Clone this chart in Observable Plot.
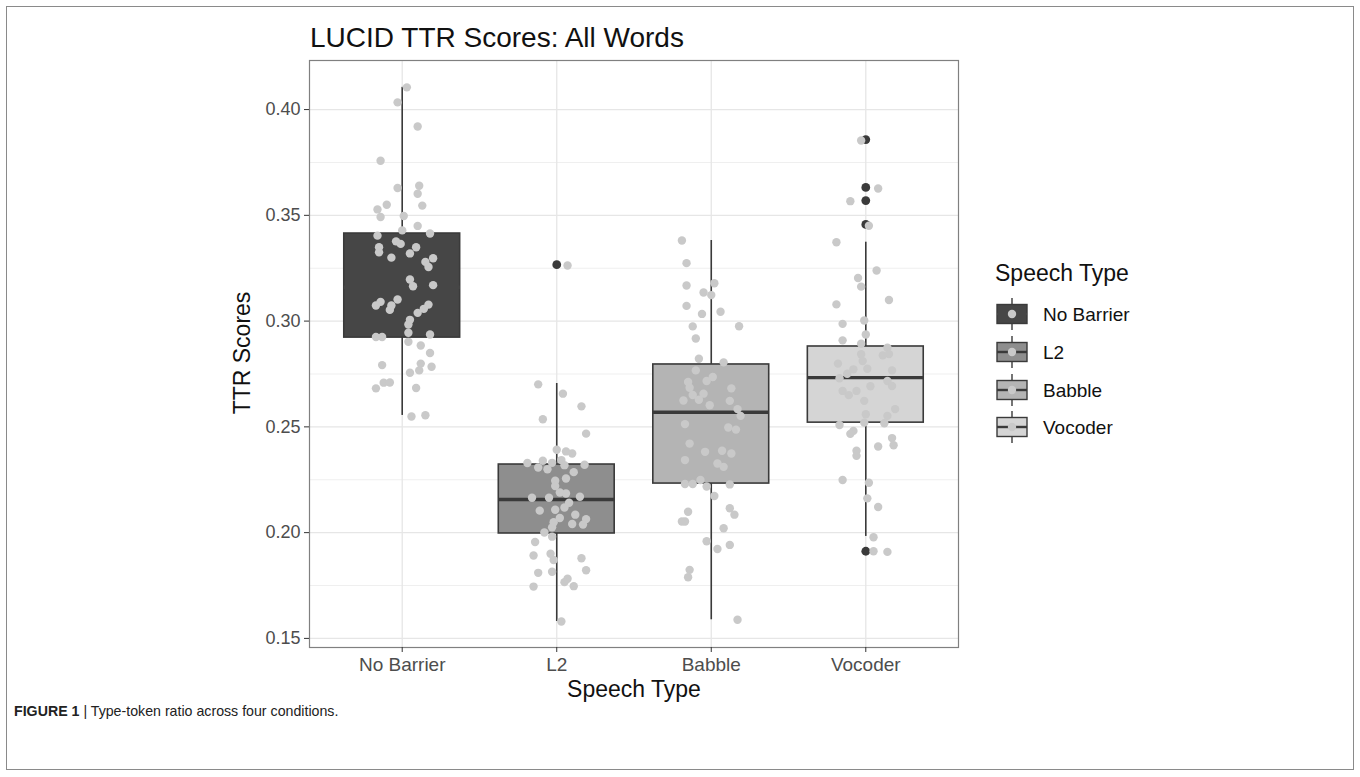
<!DOCTYPE html>
<html><head><meta charset="utf-8">
<script src="https://cdn.jsdelivr.net/npm/d3@7"></script>
<script src="https://cdn.jsdelivr.net/npm/@observablehq/plot@0.6"></script>
<style>
body{margin:0;background:#fff;font-family:"Liberation Sans",Arial,Helvetica,sans-serif;}
#wrap{position:relative;width:1360px;height:777px;overflow:hidden;}
#border{position:absolute;left:6px;top:6px;width:1348px;height:764px;border:1px solid #8a8a8a;box-sizing:border-box;}
#caption{position:absolute;left:14px;top:703px;font-size:14.2px;color:#222;white-space:nowrap;}
#chart{position:absolute;left:0;top:0;}
</style></head><body>
<div id="wrap"><div id="border"></div><div id="chart"></div>
<div id="caption"><b>FIGURE 1</b> | Type-token ratio across four conditions.</div></div>
<script>
const chartTitle = "LUCID TTR Scores: All Words";
const xTitle = "Speech Type";
const yTitle = "TTR Scores";
const legendTitle = "Speech Type";
const categories = ["No Barrier", "L2", "Babble", "Vocoder"];
const boxFill = ["#464646", "#8e8e8e", "#b4b4b4", "#d5d5d5"];
const q1 = [0.2922, 0.1996, 0.2232, 0.2520];
const median = [0.3160, 0.2157, 0.2569, 0.2733];
const q3 = [0.3414, 0.2322, 0.2795, 0.2880];
const whiskerLow = [0.2554, 0.1580, 0.1588, 0.1982];
const whiskerHigh = [0.4105, 0.2705, 0.3381, 0.3373];
const outlierGroup = [1, 3, 3, 3, 3, 3];
const outlierValue = [0.3267, 0.3858, 0.3632, 0.3570, 0.3457, 0.1912];
const yTicks = [0.15, 0.20, 0.25, 0.30, 0.35, 0.40];
const yMinorTicks = [0.175, 0.225, 0.275, 0.325, 0.375];

// [value, horizontal jitter in category units]
const noBarrierPoints = [[0.4105,0.03],[0.4034,-0.03],[0.3920,0.10],[0.3758,-0.14],[0.3629,-0.03],[0.3640,0.11],[0.3602,0.10],[0.3550,-0.10],[0.3528,-0.16],[0.3546,0.13],[0.3492,-0.14],[0.3497,0.01],[0.3450,0.10],[0.3429,0.00],[0.3404,-0.16],[0.3414,0.18],[0.3377,-0.04],[0.3365,-0.01],[0.3349,-0.15],[0.3349,0.09],[0.3325,-0.15],[0.3320,0.05],[0.3300,-0.07],[0.3297,0.20],[0.3280,0.15],[0.3256,0.17],[0.3197,0.05],[0.3165,0.07],[0.3170,0.20],[0.3102,-0.03],[0.3091,-0.14],[0.3074,-0.17],[0.3074,-0.07],[0.3053,-0.08],[0.3078,0.17],[0.3058,0.14],[0.3039,0.10],[0.3006,0.05],[0.2984,0.04],[0.2945,0.04],[0.2925,-0.17],[0.2925,-0.13],[0.2937,0.18],[0.2902,0.04],[0.2885,0.12],[0.2849,0.18],[0.2792,-0.13],[0.2799,0.12],[0.2784,0.19],[0.2756,0.05],[0.2767,0.11],[0.2709,-0.12],[0.2710,-0.08],[0.2682,-0.17],[0.2684,0.09],[0.2549,0.06],[0.2555,0.15]];
const l2Points = [[0.3263,0.07],[0.2701,-0.12],[0.2657,0.04],[0.2597,0.16],[0.2536,-0.09],[0.2468,0.19],[0.2392,0.00],[0.2384,0.06],[0.2374,0.10],[0.2329,-0.19],[0.2340,-0.09],[0.2308,-0.12],[0.2300,-0.06],[0.2330,-0.03],[0.2343,0.03],[0.2319,0.05],[0.2321,0.18],[0.2286,0.11],[0.2245,-0.01],[0.2256,0.06],[0.2220,-0.01],[0.2190,0.02],[0.2185,0.06],[0.2165,-0.16],[0.2165,-0.05],[0.2170,0.15],[0.2141,0.08],[0.2104,-0.11],[0.2108,-0.01],[0.2119,0.05],[0.2085,0.12],[0.2069,0.02],[0.2064,0.19],[0.2049,-0.02],[0.2041,0.10],[0.2038,0.17],[0.2025,-0.03],[0.2001,-0.08],[0.1981,-0.03],[0.1956,-0.14],[0.1892,-0.15],[0.1900,-0.04],[0.1871,-0.02],[0.1879,0.16],[0.1822,0.19],[0.1810,-0.12],[0.1815,-0.03],[0.1782,0.07],[0.1766,0.05],[0.1745,-0.15],[0.1747,0.11],[0.1580,0.03]];
const babblePoints = [[0.3381,-0.19],[0.3274,-0.16],[0.3168,-0.16],[0.3179,0.02],[0.3135,-0.05],[0.3123,0.00],[0.3072,-0.16],[0.3034,-0.06],[0.3044,0.06],[0.2975,-0.12],[0.2976,0.18],[0.2918,-0.10],[0.2822,-0.08],[0.2805,0.08],[0.2767,-0.10],[0.2717,-0.03],[0.2736,0.01],[0.2712,-0.15],[0.2685,-0.14],[0.2682,0.13],[0.2651,-0.12],[0.2657,-0.05],[0.2628,-0.08],[0.2625,-0.18],[0.2623,0.12],[0.2602,-0.01],[0.2584,0.17],[0.2552,0.19],[0.2513,-0.17],[0.2497,0.11],[0.2487,0.16],[0.2421,-0.14],[0.2382,-0.04],[0.2387,0.07],[0.2374,0.13],[0.2343,-0.17],[0.2327,0.04],[0.2311,0.08],[0.2230,-0.17],[0.2230,-0.12],[0.2249,-0.07],[0.2218,-0.03],[0.2228,0.12],[0.2173,0.02],[0.2115,0.12],[0.2099,-0.15],[0.2053,-0.19],[0.2053,-0.17],[0.2085,0.15],[0.2021,0.08],[0.1959,-0.03],[0.1923,0.04],[0.1942,0.12],[0.1824,-0.14],[0.1789,-0.15],[0.1588,0.17]];
const vocoderPoints = [[0.3854,-0.03],[0.3627,0.08],[0.3567,-0.10],[0.3451,0.02],[0.3373,-0.19],[0.3239,0.07],[0.3204,-0.05],[0.3163,-0.03],[0.3100,0.15],[0.3079,-0.19],[0.3003,-0.01],[0.2987,-0.15],[0.2937,0.00],[0.2909,-0.15],[0.2893,-0.03],[0.2874,0.14],[0.2844,0.15],[0.2838,0.11],[0.2843,-0.03],[0.2799,-0.18],[0.2811,-0.02],[0.2775,0.01],[0.2767,0.17],[0.2772,-0.08],[0.2751,-0.12],[0.2730,-0.17],[0.2717,0.14],[0.2693,0.17],[0.2692,0.03],[0.2670,-0.15],[0.2650,-0.11],[0.2670,-0.06],[0.2623,-0.01],[0.2584,0.19],[0.2560,0.00],[0.2552,0.14],[0.2509,-0.17],[0.2520,-0.01],[0.2517,0.12],[0.2481,-0.08],[0.2467,-0.10],[0.2447,0.17],[0.2413,0.18],[0.2407,0.08],[0.2387,-0.06],[0.2363,-0.06],[0.2249,-0.15],[0.2236,0.02],[0.2162,0.01],[0.2121,0.08],[0.1978,0.05],[0.1912,0.05],[0.1909,0.14]];

const groups = [noBarrierPoints, l2Points, babblePoints, vocoderPoints];
const pts = groups.flatMap((g, i) => g.map(([v, j]) => ({x: i + j, y: v})));
const boxes = categories.map((c, i) => ({i, c, q1: q1[i], med: median[i], q3: q3[i], lo: whiskerLow[i], hi: whiskerHigh[i], fill: boxFill[i]}));
const outliers = outlierGroup.map((g, k) => ({x: g, y: outlierValue[k]}));
const halfBox = 0.375;
const font = '"Liberation Sans", Arial, Helvetica, sans-serif';
const lineCol = "#3a3a3a";

const plot = Plot.plot({
  width: 1360, height: 777,
  marginLeft: 309, marginRight: 402, marginTop: 60, marginBottom: 130,
  style: {fontFamily: font, background: "transparent", overflow: "visible"},
  x: {type: "linear", domain: [-0.6, 3.6]},
  y: {domain: [0.1457, 0.4232]},
  color: {type: "identity"},
  marks: [
    Plot.gridY(yMinorTicks, {stroke: "#efefef", strokeOpacity: 1, strokeWidth: 1}),
    Plot.gridY(yTicks, {stroke: "#e6e6e6", strokeOpacity: 1, strokeWidth: 1.3}),
    Plot.gridX([0, 1, 2, 3], {stroke: "#e6e6e6", strokeOpacity: 1, strokeWidth: 1.3}),
    Plot.ruleX(boxes, {x: "i", y1: "lo", y2: "q1", stroke: lineCol, strokeWidth: 1.6}),
    Plot.ruleX(boxes, {x: "i", y1: "q3", y2: "hi", stroke: lineCol, strokeWidth: 1.6}),
    Plot.rectY(boxes, {x1: d => d.i - halfBox, x2: d => d.i + halfBox, y1: "q1", y2: "q3", fill: "fill", stroke: lineCol, strokeWidth: 1.6}),
    Plot.ruleY(boxes, {y: "med", x1: d => d.i - halfBox, x2: d => d.i + halfBox, stroke: d => d.i === 0 ? d.fill : lineCol, strokeWidth: 3.4}),
    Plot.dot(outliers, {x: "x", y: "y", r: 4.4, fill: lineCol, stroke: "none"}),
    Plot.dot(pts, {x: "x", y: "y", r: 4.2, fill: "#c9c9c9", stroke: "none"}),
    Plot.frame({stroke: "#808080", strokeWidth: 1.2}),
    Plot.axisY(yTicks, {tickFormat: d3.format(".2f"), tickSize: 5, tickPadding: 4, fontSize: 18, stroke: "#333", fill: "#4d4d4d", label: null}),
    Plot.axisX([0, 1, 2, 3], {tickFormat: i => categories[i], tickSize: 5, tickPadding: 5, fontSize: 19, stroke: "#333", fill: "#4d4d4d", label: null})
  ]
});
document.getElementById("chart").appendChild(plot);

const svg = d3.select(plot);
svg.append("text").attr("x", 310).attr("y", 47).attr("text-anchor", "start").attr("font-size", 28).attr("fill", "#111").attr("font-family", font).text(chartTitle);
svg.append("text").attr("x", 634).attr("y", 697).attr("text-anchor", "middle").attr("font-size", 23).attr("fill", "#111").attr("font-family", font).text(xTitle);
svg.append("text").attr("transform", "translate(250,353) rotate(-90)").attr("text-anchor", "middle").attr("font-size", 23).attr("fill", "#111").attr("font-family", font).text(yTitle);

// legend
const lg = svg.append("g").attr("font-family", font).attr("text-anchor", "start");
lg.append("text").attr("x", 995).attr("y", 281).attr("font-size", 23).attr("fill", "#111").text(legendTitle);
const rowY = [314, 352, 390, 427];
categories.forEach((c, i) => {
  const cy = rowY[i], cx = 1012;
  lg.append("line").attr("x1", cx).attr("x2", cx).attr("y1", cy - 16).attr("y2", cy + 16).attr("stroke", lineCol).attr("stroke-width", 1.4);
  lg.append("rect").attr("x", cx - 15).attr("y", cy - 9.5).attr("width", 30).attr("height", 19).attr("fill", boxFill[i]).attr("stroke", lineCol).attr("stroke-width", 1.4);
  lg.append("line").attr("x1", cx - 15).attr("x2", cx + 15).attr("y1", cy).attr("y2", cy).attr("stroke", i === 0 ? boxFill[i] : lineCol).attr("stroke-width", 2.4);
  lg.append("circle").attr("cx", cx).attr("cy", cy).attr("r", 4.2).attr("fill", "#c9c9c9");
  lg.append("text").attr("x", 1043).attr("y", cy + 6.5).attr("text-anchor", "start").attr("font-size", 19).attr("fill", "#111").text(c);
});
</script></body></html>
